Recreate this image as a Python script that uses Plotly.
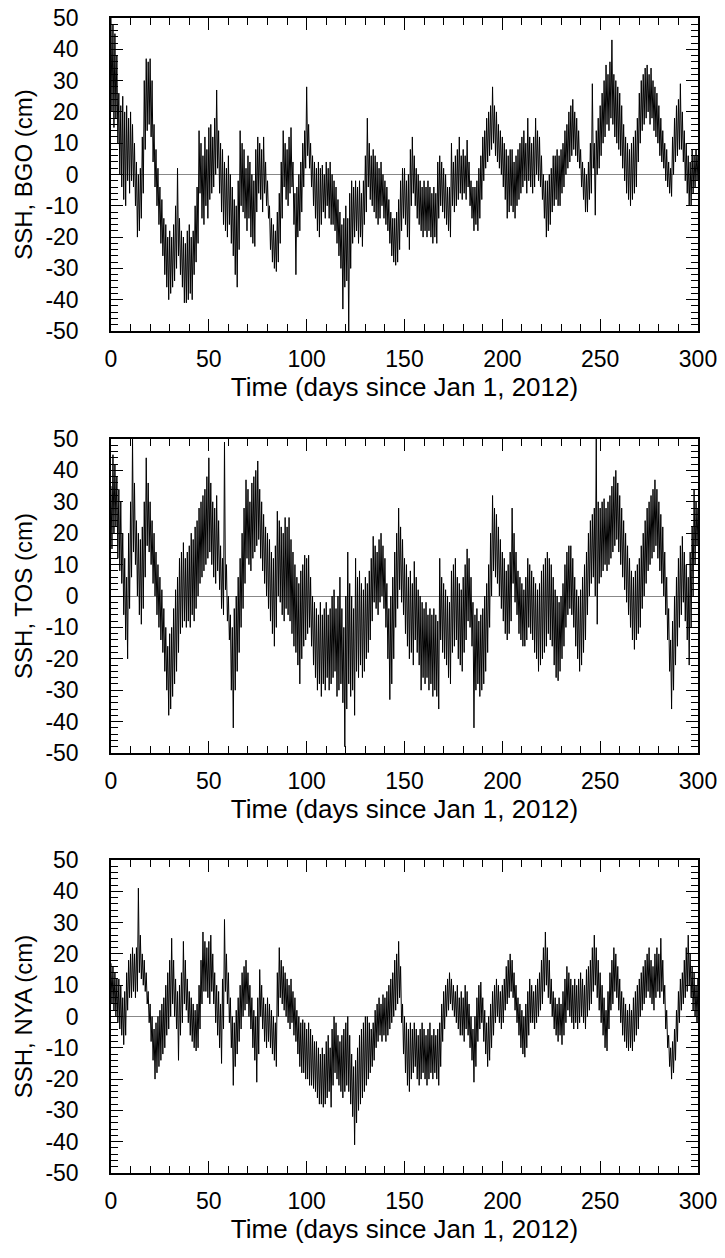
import plotly.graph_objects as go
from plotly.subplots import make_subplots

# Days since Jan 1, 2012; for each day the top and bottom of the SSH band (cm)
days = list(range(0, 301))

bgo_top = [
    50, 48, 45, 38, 26, 22, 25, 20, 22, 18,
    20, 16, 10, 4, 0, 2, 12, 30, 37, 36,
    37, 30, 16, 8, 2, -4, -8, -14, -16, -20,
    -18, -20, -16, -10, 2, -14, -18, -20, -22, -18,
    -16, -20, -18, -10, -4, 14, 10, 6, 12, 8,
    15, 16, 12, 18, 27, 14, 10, 8, 4, 2,
    6, 0, -4, -8, -10, -2, 14, 10, 8, 2,
    6, 4, 0, -2, 8, 12, 10, 8, 12, 4,
    -2, -10, -14, -16, -18, -12, -6, 4, 14, 10,
    8, 12, 15, 4, -6, -4, 0, 4, 10, 14,
    28, 16, 10, 6, 4, 2, 4, 2, 3, 0,
    4, 2, 4, 0, -2, -4, -8, -12, -16, -14,
    -10, -14, -6, -2, -4, -2, -4, -2, -6, -2,
    6, 18, 10, 6, 8, 6, 4, 2, 4, 0,
    -2, -4, -8, -12, -14, -14, -12, -8, -2, 2,
    2, -2, 0, 8, 12, 6, 2, 0, -2, -4,
    -2, -4, -2, -4, -6, -4, -6, 4, 6, 4,
    2, 0, -4, -4, 10, 4, 6, 8, 12, 6,
    8, 6, 11, 4, -2, -4, -4, -2, 2, 6,
    12, 14, 18, 20, 22, 28, 22, 20, 16, 14,
    12, 10, 8, 6, 8, 8, 4, 6, 8, 10,
    12, 14, 10, 18, 12, 10, 12, 18, 14, 12,
    6, 0, -2, -2, 0, 2, 6, 6, 8, 6,
    8, 10, 14, 16, 20, 22, 24, 20, 18, 14,
    8, 4, 2, 0, 4, 10, 29, 10, 14, 18,
    22, 26, 30, 35, 32, 36, 43, 32, 30, 28,
    26, 22, 16, 12, 10, 8, 10, 12, 14, 18,
    26, 30, 32, 34, 35, 32, 34, 30, 28, 26,
    22, 18, 14, 10, 8, 4, 2, 12, 18, 22,
    24, 29, 20, 14, 10, 6, 4, 8, 6, 8,
    6,
]
bgo_bottom = [
    20, 15, 18, 10, 0, -4, -8, -10, -2, -6,
    -2, -4, -10, -20, -18, -14, -6, 8, 14, 16,
    12, 4, -4, -10, -16, -22, -26, -32, -36, -40,
    -38, -36, -34, -30, -26, -32, -36, -41, -41, -40,
    -38, -40, -32, -28, -22, -6, -14, -16, -10, -14,
    -8, -6, -4, 0, 2, -6, -12, -16, -18, -20,
    -16, -22, -26, -32, -36, -24, -10, -12, -14, -18,
    -14, -20, -22, -23, -12, -6, -8, -12, -6, -10,
    -14, -24, -28, -30, -31, -28, -22, -14, -4, -8,
    -10, -6, -4, -16, -32, -20, -18, -12, -4, 2,
    6, 2, -4, -10, -14, -18, -20, -16, -12, -14,
    -10, -14, -16, -16, -18, -22, -26, -30, -43, -36,
    -34, -50, -30, -22, -20, -18, -22, -20, -23, -16,
    -12, -4, -8, -10, -12, -14, -16, -14, -10, -14,
    -16, -18, -22, -26, -28, -29, -28, -24, -18, -14,
    -16, -20, -24, -10, -6, -10, -14, -16, -18, -20,
    -18, -20, -18, -20, -22, -20, -22, -14, -10, -12,
    -14, -16, -18, -20, -10, -12, -10, -8, -6, -8,
    -6, -8, -4, -10, -14, -18, -16, -18, -14, -8,
    -2, 2, 4, 6, 8, 10, 6, 4, 2, 0,
    -4, -8, -14, -12, -10, -12, -14, -10, -8, -6,
    -4, -2, -6, -2, -4, -6, -4, 0, -2, -4,
    -8, -14, -20, -18, -16, -12, -10, -8, -10, -10,
    -6, -4, 0, 2, 4, 6, 8, 6, 4, 2,
    -4, -8, -12, -12, -8, -6, 2, -13, 0, 2,
    6, 10, 12, 16, 14, 18, 16, 12, 10, 8,
    6, 2, -2, -6, -8, -10, -8, -6, -4, 4,
    10, 14, 16, 18, 20, 16, 18, 14, 12, 10,
    6, 4, 2, -2, -4, -6, -7, 0, 4, 6,
    8, 8, 4, -2, -6, -10, -10, -6, -4, -2,
    -4,
]

tos_top = [
    35, 45, 42, 38, 34, 30, 20, 12, 6, 20,
    30, 50, 36, 24, 20, 18, 22, 30, 44, 36,
    30, 24, 20, 14, 10, 6, 2, -4, -10, -16,
    -12, -10, -4, 2, 6, 12, 14, 17, 12, 14,
    16, 20, 18, 22, 24, 28, 30, 32, 34, 38,
    44, 36, 30, 28, 32, 24, 16, 12, 49, 10,
    0, -6, -10, -4, 0, 6, 12, 20, 28, 37,
    34, 30, 36, 38, 40, 43, 34, 30, 26, 22,
    20, 18, 14, 12, 16, 27, 24, 22, 20, 25,
    22, 25, 18, 14, 10, 6, 4, 8, 10, 13,
    12, 13, 6, 0, -2, -4, -6, -2, -6, -4,
    -2, -6, -4, 0, 2, -4, 0, 6, -4, -10,
    0, 14, 4, 0, -4, 12, 6, 8, 4, 2,
    6, 4, 8, 12, 19, 16, 14, 18, 20, 16,
    12, 4, -4, 0, 6, 14, 20, 28, 22, 18,
    12, 10, 6, 8, 4, 11, 6, 2, 0, -2,
    -4, -2, -6, -4, -6, -4, -6, -8, 12, 6,
    4, 2, 0, -2, 8, 10, 12, 6, 4, 2,
    6, 10, 15, 12, 6, -2, -6, -4, -8, -6,
    -4, 0, 4, 10, 20, 32, 28, 26, 22, 18,
    14, 12, 8, 10, 14, 28, 20, 14, 8, 6,
    4, 2, 6, 12, 10, 8, 6, 4, 2, 4,
    8, 10, 12, 14, 12, 10, 6, 2, 0, -2,
    0, 4, 10, 14, 16, 16, 12, 6, 2, 0,
    2, 6, 10, 14, 20, 24, 26, 28, 50, 30,
    28, 30, 31, 28, 30, 32, 35, 38, 40, 36,
    32, 28, 24, 20, 16, 12, 8, 6, 8, 10,
    12, 16, 20, 24, 28, 30, 32, 34, 37, 34,
    30, 26, 22, 14, 6, -4, -14, -8, 0, 6,
    12, 16, 19, 14, 10, 6, 14, 22, 34, 30,
    28,
]
tos_bottom = [
    15, 20, 22, 12, 8, 4, -6, -14, -20, -4,
    6, 14, 10, 0, -6, -9, -4, 6, 16, 14,
    10, 4, 0, -6, -10, -14, -18, -24, -30, -38,
    -36, -32, -28, -24, -18, -12, -10, -8, -10, -8,
    -10, -6, -8, -4, 0, 4, 6, 8, 10, 12,
    14, 10, 6, 4, 8, 2, -4, -6, 2, -8,
    -14, -30, -42, -30, -24, -18, -10, -4, 4, 12,
    10, 8, 12, 14, 16, 18, 12, 8, 4, 0,
    -4, -8, -12, -16, -10, 0, -2, -6, -8, -4,
    -6, -8, -12, -16, -18, -22, -28, -20, -16, -14,
    -12, -10, -16, -22, -26, -30, -28, -32, -28, -30,
    -26, -30, -28, -26, -24, -32, -30, -28, -34, -48,
    -36, -28, -32, -30, -38, -24, -26, -22, -26, -24,
    -20, -18, -14, -8, -2, -4, -6, -2, 0, -4,
    -10, -20, -33, -28, -20, -10, -4, 2, -2, -6,
    -12, -16, -20, -18, -22, -14, -18, -22, -30, -26,
    -28, -26, -30, -28, -32, -30, -32, -36, -14, -18,
    -20, -22, -26, -28, -18, -16, -14, -20, -22, -24,
    -18, -14, -8, -10, -16, -42, -30, -28, -32, -30,
    -28, -24, -18, -10, 0, 8, 6, 4, 0, -4,
    -8, -12, -14, -12, -8, 4, -2, -6, -12, -14,
    -16, -16, -14, -10, -12, -14, -18, -20, -24, -22,
    -20, -18, -16, -12, -14, -16, -22, -26, -27, -24,
    -20, -16, -10, -6, -4, -6, -10, -16, -20, -24,
    -22, -18, -14, -6, 0, 4, 6, 0, -9, 4,
    6, 8, 10, 8, 10, 12, 14, 16, 18, 14,
    10, 6, 2, -2, -6, -10, -14, -17, -14, -12,
    -10, -4, 0, 4, 8, 10, 12, 14, 16, 12,
    8, 4, 0, -6, -14, -24, -36, -30, -22, -16,
    -10, -6, -2, -8, -14, -22, -10, 0, 10, 16,
    14,
]

nya_top = [
    17, 16, 14, 12, 12, 10, 6, 8, 14, 18,
    20, 22, 20, 22, 41, 26, 20, 18, 14, 8,
    4, 0, -4, -2, 0, 2, 4, 6, 10, 14,
    18, 25, 18, 12, 8, 10, 14, 24, 18, 12,
    8, 6, 4, 2, 4, 10, 18, 27, 24, 22,
    24, 26, 20, 14, 10, 8, 4, 12, 31, 20,
    14, 6, 0, -2, 2, 6, 10, 14, 16, 18,
    14, 10, 6, 2, 0, 6, 15, 10, 6, 4,
    6, 4, 2, 0, -2, 14, 22, 18, 16, 14,
    12, 10, 12, 8, 6, 2, 0, -2, -1, -2,
    -4, -2, -4, -6, -8, -8, -10, -12, -10, -12,
    -8, -6, -10, -4, 0, -2, -6, -8, -6, -4,
    -2, 0, -6, -12, -16, -14, -10, -6, -4, -2,
    0, 0, -2, -4, -2, 2, 4, 6, 4, 7,
    6, 8, 10, 12, 14, 18, 20, 24, 16, 4,
    0, -2, -4, -2, -4, -2, -4, -6, -4, -2,
    -4, -6, -4, -2, -6, -4, -6, -4, -2, 4,
    8, 10, 12, 14, 12, 10, 8, 10, 6, 8,
    6, 10, 8, 4, 0, -4, 0, 6, 10, 11,
    6, 2, -2, 0, 4, 8, 10, 12, 10, 8,
    10, 12, 16, 18, 20, 18, 14, 10, 6, 4,
    2, 0, 4, 8, 12, 10, 8, 10, 12, 14,
    18, 22, 27, 22, 18, 12, 8, 6, 4, 6,
    4, 8, 12, 16, 14, 12, 10, 12, 10, 12,
    14, 12, 10, 15, 16, 18, 22, 26, 22, 18,
    14, 10, 6, 2, 8, 14, 18, 22, 20, 16,
    12, 8, 6, 4, 2, 4, 2, 6, 8, 10,
    12, 14, 16, 18, 20, 22, 18, 16, 20, 22,
    20, 25, 18, 10, 2, -6, -10, -8, -4, 2,
    8, 12, 14, 18, 22, 26, 20, 16, 14, 10,
    12,
]
nya_bottom = [
    4, 2, 0, -2, -4, -6, -9, -6, 2, 6,
    6, 8, 6, 8, 14, 12, 10, 8, 4, -2,
    -8, -14, -20, -18, -16, -14, -12, -10, -6, -4,
    0, 4, 0, -4, -14, -6, -2, 4, 2, -2,
    -6, -8, -10, -11, -10, -4, 4, 8, 8, 6,
    4, 8, 4, -2, -6, -10, -15, -4, 8, 4,
    -2, -10, -22, -16, -12, -8, -4, 0, 2, 4,
    0, -4, -10, -14, -21, -12, 0, -4, -8, -10,
    -8, -10, -12, -14, -16, 0, 6, 4, 2, 0,
    -2, -4, -2, -6, -8, -12, -16, -18, -18, -20,
    -20, -22, -22, -23, -24, -26, -28, -28, -29, -28,
    -26, -24, -29, -22, -18, -20, -22, -24, -26, -24,
    -22, -24, -28, -32, -41, -34, -30, -28, -26, -24,
    -22, -20, -18, -16, -14, -10, -8, -6, -8, -6,
    -8, -6, -4, -2, 0, 2, 4, 6, -2, -12,
    -18, -22, -24, -20, -18, -16, -20, -22, -20, -18,
    -20, -22, -20, -18, -20, -18, -20, -22, -16, -8,
    -4, 0, 2, 4, 2, 0, -2, -4, -6, -6,
    -8, -4, -6, -10, -14, -21, -16, -8, -4, -2,
    -8, -12, -16, -14, -10, -6, -2, 0, -2, -4,
    -2, 2, 4, 6, 8, 6, 2, -2, -6, -10,
    -12, -13, -10, -6, -2, -2, -4, -2, 0, 2,
    4, 8, 10, 6, 4, 0, -4, -6, -8, -6,
    -9, -6, -2, 2, 0, -2, -4, -2, -4, -2,
    0, -2, -4, 0, 2, 4, 8, 10, 6, 2,
    -2, -6, -10, -11, -4, 2, 4, 8, 6, 2,
    -2, -6, -8, -10, -11, -10, -11, -8, -6, -4,
    0, 2, 4, 6, 8, 6, 4, 2, 6, 8,
    6, 8, 4, -4, -10, -16, -20, -18, -14, -8,
    -2, 2, 4, 6, 8, 10, 6, 2, 0, -2,
    0,
]

y_titles = ["SSH, BGO (cm)", "SSH, TOS (cm)", "SSH, NYA (cm)"]
x_title = "Time (days since Jan 1, 2012)"
x_ticks = [0, 50, 100, 150, 200, 250, 300]
y_ticks = [-50, -40, -30, -20, -10, 0, 10, 20, 30, 40, 50]

bands = [(bgo_top, bgo_bottom), (tos_top, tos_bottom), (nya_top, nya_bottom)]

fig = make_subplots(rows=3, cols=1)

W, H = 725, 1258
plot_boxes = [(18, 331), (439, 753), (860, 1173)]
font_family = "Liberation Sans, Arial, sans-serif"

for i, (top_vals, bot_vals) in enumerate(bands):
    # trace runs crest -> trough -> crest through each day's band
    xs, ys = [], []
    for d, hi, lo in zip(days, top_vals, bot_vals):
        xs.extend([d, d + 0.5])
        ys.extend([hi, lo])
    fig.add_trace(
        go.Scatter(x=xs, y=ys, mode="lines",
                   line=dict(color="#000000", width=1.0),
                   showlegend=False, hoverinfo="skip"),
        row=i + 1, col=1)
    top, bot = plot_boxes[i]
    fig.update_yaxes(
        domain=[1 - bot / H, 1 - top / H], automargin=False,
        range=[-50, 50], tickvals=y_ticks, ticktext=[str(t) for t in y_ticks],
        ticks="inside", ticklen=12, tickwidth=1.3, tickcolor="black",
        minor=dict(ticks="inside", dtick=2, ticklen=7, tickwidth=1, tickcolor="black"),
        showline=True, linecolor="black", linewidth=1.5, mirror="allticks",
        showgrid=False, zeroline=True, zerolinecolor="#888888", zerolinewidth=1,
        tickfont=dict(size=23, color="black", family=font_family),
        ticklabelstandoff=26, ticklabeloverflow="allow",
        title=dict(text=y_titles[i], font=dict(size=24, color="black", family=font_family), standoff=6),
        row=i + 1, col=1)
    fig.update_xaxes(
        automargin=False,
        range=[0, 300], tickvals=x_ticks, ticktext=[str(t) for t in x_ticks],
        ticks="inside", ticklen=12, tickwidth=1.3, tickcolor="black",
        minor=dict(ticks="inside", dtick=10, ticklen=7, tickwidth=1, tickcolor="black"),
        showline=True, linecolor="black", linewidth=1.5, mirror="allticks",
        showgrid=False, zeroline=False,
        tickfont=dict(size=23, color="black", family=font_family),
        ticklabelstandoff=7, ticklabeloverflow="allow",
        title=dict(text=x_title, font=dict(size=26, color="black", family=font_family), standoff=0),
        row=i + 1, col=1)

fig.update_layout(
    width=W, height=H,
    margin=dict(l=111, r=27, t=0, b=0, autoexpand=False),
    paper_bgcolor="white", plot_bgcolor="white",
    font=dict(family=font_family, color="black"),
)

# remove the page's default body margin so the figure fills the window exactly
fig.write_html("out.html", config={"displayModeBar": False},
               post_script="document.body.style.margin='0px';")
